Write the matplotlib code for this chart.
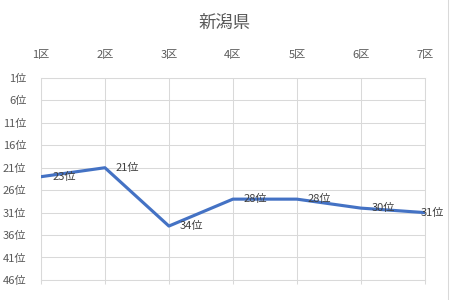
import matplotlib.pyplot as plt
from matplotlib.lines import Line2D

plt.rcParams['font.family'] = ['Noto Sans CJK JP', 'DejaVu Sans']

# data
districts = ['1区', '2区', '3区', '4区', '5区', '6区', '7区']
ranks = [23, 21, 34, 28, 28, 30, 31]
rank_ticks = list(range(1, 47, 5))

fig = plt.figure(figsize=(4.5, 3), dpi=100)
ax = fig.add_axes([0.091, 0.067, 0.853, 0.673])

x = list(range(len(districts)))
ax.plot(x, ranks, color='#4472C4', lw=2.25, solid_capstyle='round', zorder=3)

for i, r in enumerate(ranks):
    dx = 8 if i < len(ranks) - 1 else -3
    ax.annotate(f'{r}位', (i, r), xytext=(dx, 0), textcoords='offset points',
                ha='left', va='center', fontsize=8, color='#404040', zorder=4)

ax.set_xlim(0, len(districts) - 1)
ax.set_ylim(46, 1)
ax.set_xticks(x)
ax.set_xticklabels(districts)
ax.set_yticks(rank_ticks)
ax.set_yticklabels([f'{t}位' for t in rank_ticks])

ax.grid(True, color='#D9D9D9', lw=0.75)
for s in ax.spines.values():
    s.set_color('#D9D9D9')
    s.set_linewidth(0.75)

ax.tick_params(axis='x', bottom=True, top=False, labelbottom=False, labeltop=True,
               length=3, color='#D9D9D9', width=0.75, pad=10,
               labelsize=8, labelcolor='#595959')
ax.tick_params(axis='y', left=False, pad=7, labelsize=8, labelcolor='#595959')

fig.text(0.5, 0.925, '新潟県', ha='center', va='center', fontsize=12.5, color='#595959')
fig.add_artist(Line2D([0.996, 0.996], [0, 1], color='#D9D9D9', lw=0.75))

fig.savefig('out.png', dpi=100)
